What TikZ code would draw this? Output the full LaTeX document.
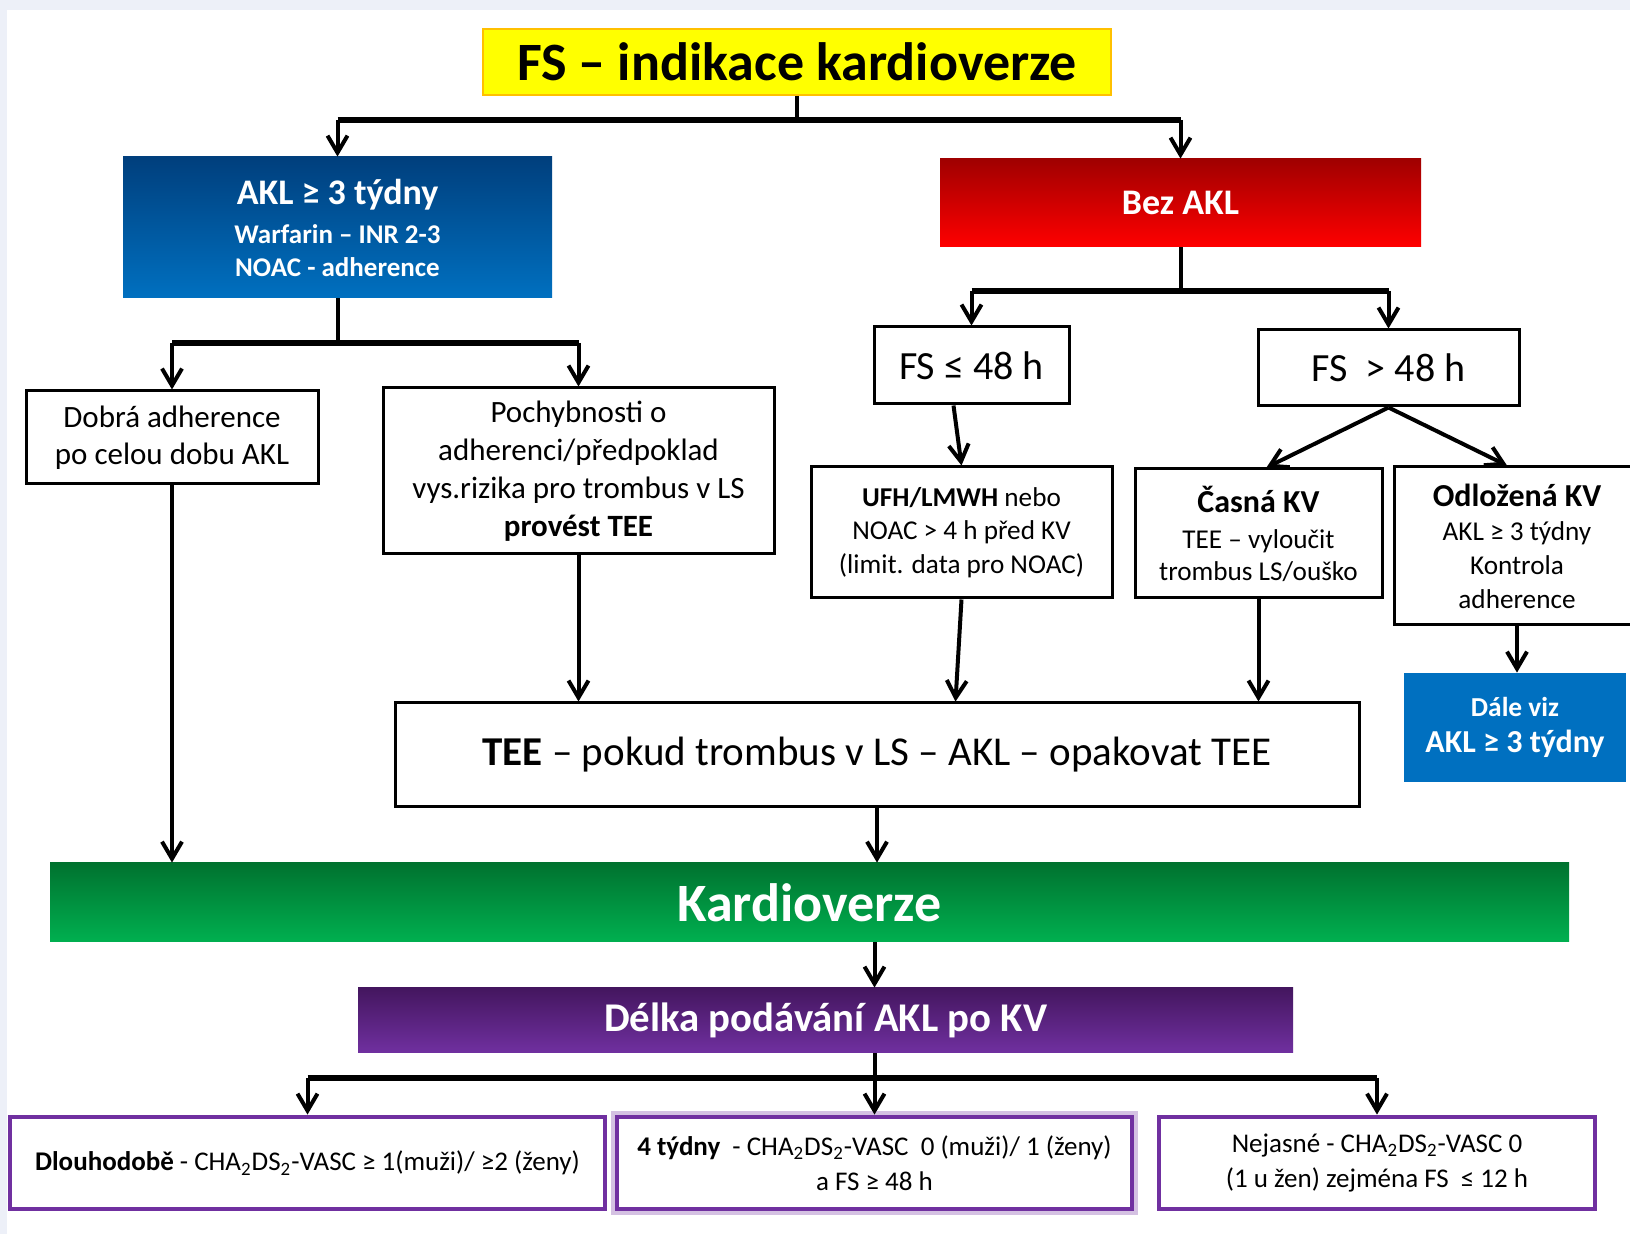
\documentclass[tikz,border=0pt]{standalone}
\usepackage{fontspec}
\setmainfont{Carlito}
\usetikzlibrary{arrows.meta}

\definecolor{kvyellow}{HTML}{FFFF00}
\definecolor{kvorange}{HTML}{FFC000}
\definecolor{kvblue}{HTML}{0070C0}
\definecolor{kvbluedark}{HTML}{003F7D}
\definecolor{kvreddark}{HTML}{A00000}
\definecolor{kvred}{HTML}{FF0000}
\definecolor{kvgreendark}{HTML}{00722F}
\definecolor{kvgreen}{HTML}{00B050}
\definecolor{kvpurpledark}{HTML}{44165F}
\definecolor{kvpurple}{HTML}{7030A0}
\definecolor{kvback}{HTML}{EDF0F8}

\newcommand\sz[2]{\fontsize{#1}{#2}\selectfont}
\newcommand\cha{CHA\textsubscript{2}DS\textsubscript{2}-VASC}

\begin{document}
\begin{tikzpicture}[x=0.5pt,y=-0.5pt,
    box/.style={draw,line width=1.5pt,fill=white,inner sep=0pt,align=center},
    head/.style={inner sep=0pt,align=center,text=white,font=\bfseries},
    outbox/.style={draw=kvpurple,line width=2.4pt,fill=white,inner sep=0pt,
      align=center,minimum height=46pt,font=\sz{13.5}{17.5}},
    ln/.style={line width=2pt},
    bar/.style={line width=3.4pt},
    arr/.style={line width=2pt,-{Straight Barb[length=8.5pt,width=10pt]}}
  ]
  \useasboundingbox (0,0) rectangle (1630,1234);
  \fill[kvback] (0,0) rectangle (1630,1234);
  \fill[white] (7,10) rectangle (1630,1234);

  % top
  \node[box,fill=kvyellow,draw=kvorange,line width=.8pt,minimum width=314pt,
    minimum height=33pt,font=\sz{27}{30}\bfseries] (title) at (797,62)
    {FS – indikace kardioverze};
  \node[head,top color=kvbluedark,bottom color=kvblue,minimum width=214.5pt,
    minimum height=70.5pt,font=\sz{13.5}{16.5}\bfseries] (akl) at (337.5,227.5)
    {{\sz{18}{20}AKL ≥ 3 týdny}\\[3pt]Warfarin – INR 2-3\\NOAC - adherence};
  \node[head,top color=kvreddark,bottom color=kvred,minimum width=240.5pt,
    minimum height=44pt,font=\sz{18}{20}\bfseries] (bez) at (1180.5,203) {Bez AKL};

  % left branch
  \node[box,minimum width=146pt,minimum height=46.5pt,font=\sz{15.5}{18.5}]
    (dobra) at (172,437.5) {Dobrá adherence\\po celou dobu AKL};
  \node[box,minimum width=195.5pt,minimum height=83pt,font=\sz{15.5}{19}]
    (poch) at (578.5,471)
    {Pochybnosti o\\adherenci/předpoklad\\vys.rizika pro trombus v LS\\\textbf{provést TEE}};

  % right branch
  \node[box,minimum width=97.5pt,minimum height=38.5pt,font=\sz{20}{24}]
    (fsle) at (971.5,365.5) {FS ≤ 48 h};
  \node[box,minimum width=130.5pt,minimum height=38pt,font=\sz{20}{24}]
    (fsgt) at (1388.5,368) {FS\ \ > 48 h};
  \node[box,minimum width=150.5pt,minimum height=65.5pt,font=\sz{13.6}{16.7}]
    (ufh) at (961.5,532.5)
    {\textbf{UFH/LMWH} nebo\\NOAC > 4 h před KV\\(limit. data pro NOAC)};
  \node[box,minimum width=123.5pt,minimum height=64.5pt,font=\sz{13.6}{16}]
    (casna) at (1258.5,533.5)
    {{\sz{16}{18}\bfseries Časná KV}\\[2pt]TEE – vyloučit\\trombus LS/ouško};
  \node[box,minimum width=123pt,minimum height=79pt,font=\sz{13.6}{17}]
    (odl) at (1517,546)
    {{\sz{16}{18}\bfseries Odložená KV}\\AKL ≥ 3 týdny\\Kontrola\\adherence};
  \node[head,fill=kvblue,minimum width=111pt,minimum height=54.5pt,
    font=\sz{16}{18}\bfseries] (dale) at (1515,727.5)
    {{\sz{13.7}{16}Dále viz}\\AKL ≥ 3 týdny};

  % middle
  \node[box,minimum width=482pt,minimum height=52pt,font=\sz{20.5}{24}]
    (tee) at (877,755) {\textbf{TEE} – pokud trombus v LS – AKL – opakovat TEE};
  \node[head,top color=kvgreendark,bottom color=kvgreen,minimum width=759.5pt,
    minimum height=39.5pt,font=\sz{27}{30}\bfseries] (kv) at (809.5,902.5) {Kardioverze};
  \node[head,top color=kvpurpledark,bottom color=kvpurple,minimum width=467.5pt,
    minimum height=32.5pt,font=\sz{20.4}{24}\bfseries] (delka) at (825.5,1020.5)
    {Délka podávání AKL po KV};

  % bottom
  \node[outbox,minimum width=297.5pt] (dlouho) at (307.5,1163)
    {\textbf{Dlouhodobě} - \cha{} ≥ 1(muži)/ ≥2 (ženy)};
  \node[outbox,minimum width=257.5pt,preaction={draw=kvpurple!30,line width=6pt}]
    (ctyri) at (874.5,1163)
    {\textbf{4 týdny}\ \ - \cha\ \ 0 (muži)/ 1 (ženy)\\a FS ≥ 48 h};
  \node[outbox,minimum width=218pt] (nejasne) at (1377,1163)
    {Nejasné - \cha{} 0\\(1 u žen) zejména FS\ \ ≤ 12 h};

  % connectors
  \path (akl.north |- 0,120) coordinate (b1l) (bez.north |- 0,120) coordinate (b1r)
    (dobra.north |- 0,343) coordinate (b2l) (poch.north |- 0,343) coordinate (b2r)
    (fsle.north |- 0,291) coordinate (b3l) (fsgt.north |- 0,291) coordinate (b3r)
    (dlouho.north |- 0,1078) coordinate (b4l) (nejasne.north |- 0,1078) coordinate (b4r);

  \draw[ln] (title.south) -- (title.south |- b1l);
  \draw[bar] (b1l) -- (b1r);
  \draw[arr] (b1l) -- (akl.north);
  \draw[arr] (b1r) -- (bez.north);

  \draw[ln] (akl.south) -- (akl.south |- b2l);
  \draw[bar] (b2l) -- (b2r);
  \draw[arr] (b2l) -- (dobra.north);
  \draw[arr] (b2r) -- (poch.north);

  \draw[ln] (bez.south) -- (bez.south |- b3l);
  \draw[bar] (b3l) -- (b3r);
  \draw[arr] (b3l) -- (fsle.north);
  \draw[arr] (b3r) -- (fsgt.north);

  \draw[arr] ([xshift=-9pt]fsle.south) -- (ufh.north);
  \draw[arr] (fsgt.south) -- ([xshift=4pt]casna.north);
  \draw[arr] (fsgt.south) -- ([xshift=-5pt]odl.north);
  \draw[arr] (odl.south) -- (odl.south |- dale.north);

  \draw[arr] (dobra.south) -- (dobra.south |- kv.north);
  \draw[arr] (poch.south) -- (poch.south |- tee.north);
  \draw[arr] (ufh.south) -- ([xshift=-3pt]ufh.south |- tee.north);
  \draw[arr] (casna.south) -- (casna.south |- tee.north);
  \draw[arr] (tee.south) -- (tee.south |- kv.north);

  \draw[arr] (kv.south -| ctyri.north) -- (delka.north -| ctyri.north);
  \draw[arr] (delka.south -| ctyri.north) -- (ctyri.north);
  \draw[bar] (b4l) -- (b4r);
  \draw[arr] (b4l) -- (dlouho.north);
  \draw[arr] (b4r) -- (nejasne.north);
\end{tikzpicture}
\end{document}
